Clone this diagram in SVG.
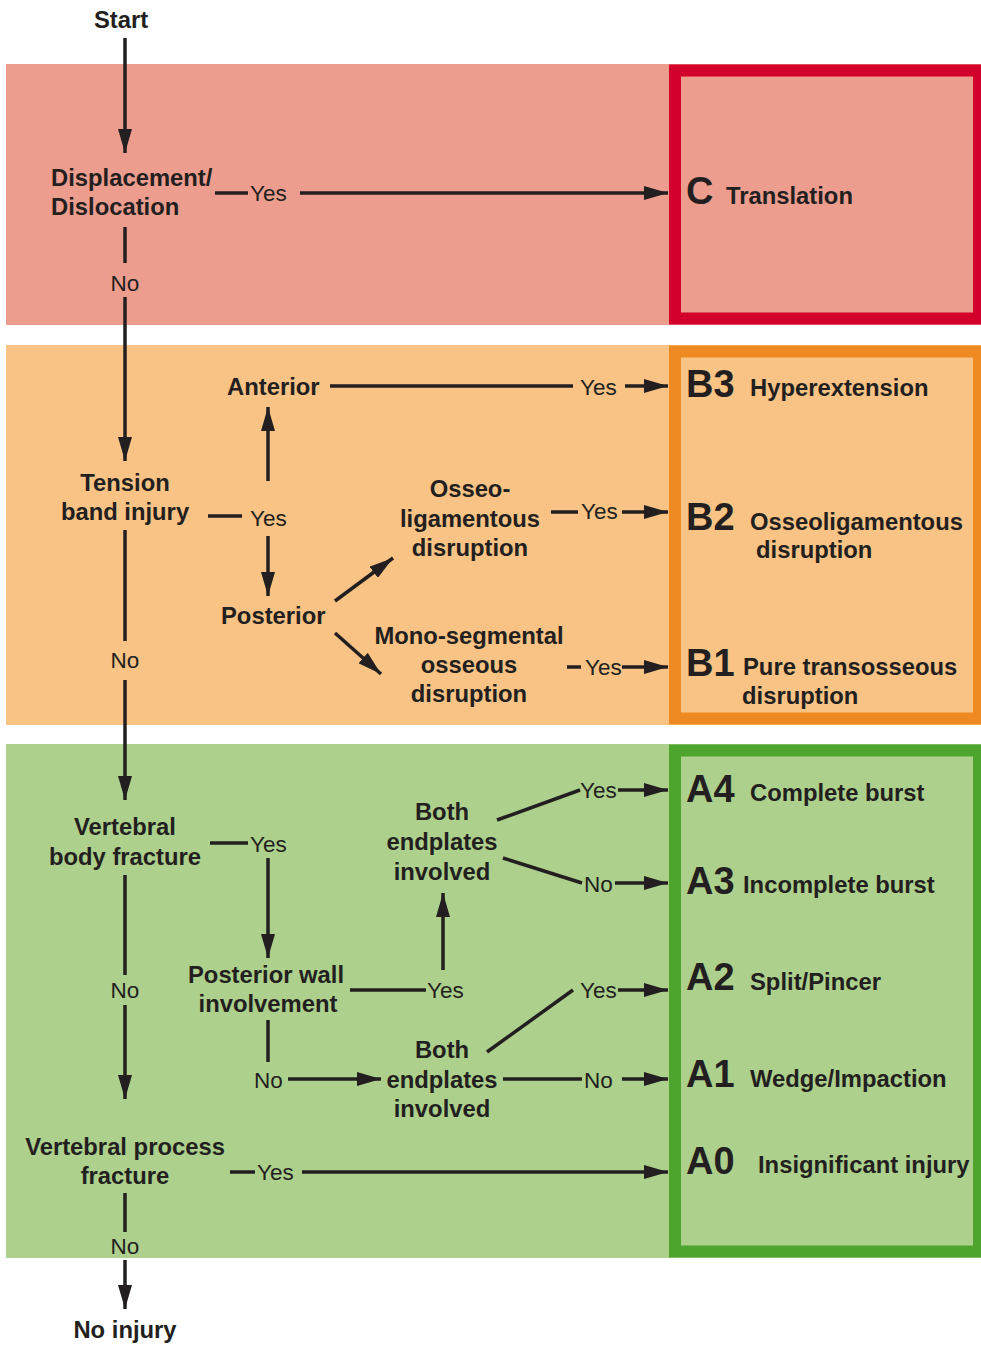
<svg xmlns="http://www.w3.org/2000/svg" width="981" height="1345" viewBox="0 0 981 1345">
<defs>
<marker id="ah" markerUnits="userSpaceOnUse" markerWidth="24" markerHeight="14" refX="24" refY="7" orient="auto">
<path d="M0,0 L24,7 L0,14 z" fill="#231F20"/>
</marker>
<style>
.t{font-family:"Liberation Sans",Arial,sans-serif;font-weight:bold;font-size:23.8px;fill:#231F20}
.m{text-anchor:middle}
.y{font-family:"Liberation Sans",Arial,sans-serif;font-size:22.5px;fill:#231F20}
.code{font-family:"Liberation Sans",Arial,sans-serif;font-weight:bold;font-size:38px;fill:#231F20}
.c line,.c polyline{stroke:#231F20;stroke-width:3.5;fill:none}
.a{marker-end:url(#ah)}
</style>
</defs>
<rect width="981" height="1345" fill="#FFFFFF"/>
<g id="bands">
<rect x="6" y="64" width="975" height="261" fill="#ED9D8E"/>
<rect x="6" y="345" width="975" height="380" fill="#F8C384"/>
<rect x="6" y="744" width="975" height="514" fill="#ADD08C"/>
</g>
<g id="box-C"><rect x="675" y="70.5" width="304" height="248" fill="none" stroke="#D2002A" stroke-width="12"/>
<text class="code" x="686" y="204">C</text><text class="t" x="726" y="204">Translation</text></g>
<g id="box-B"><rect x="675" y="351.5" width="304" height="367" fill="none" stroke="#EF8A22" stroke-width="12"/></g>
<g id="box-A"><rect x="675" y="750.5" width="304" height="501" fill="none" stroke="#4EA52E" stroke-width="12"/></g>
<g id="B3"><text class="code" x="686" y="397">B3</text><text class="t" x="750" y="396">Hyperextension</text></g>
<g id="B2"><text class="code" x="686" y="530">B2</text><text class="t" x="750" y="530">Osseoligamentous</text><text class="t" x="756" y="558">disruption</text></g>
<g id="B1"><text class="code" x="686" y="676">B1</text><text class="t" x="743" y="675">Pure transosseous</text><text class="t" x="742" y="704">disruption</text></g>
<g id="A4"><text class="code" x="686" y="802">A4</text><text class="t" x="750" y="801">Complete burst</text></g>
<g id="A3"><text class="code" x="686" y="894">A3</text><text class="t" x="743" y="893">Incomplete burst</text></g>
<g id="A2"><text class="code" x="686" y="990">A2</text><text class="t" x="750" y="990">Split/Pincer</text></g>
<g id="A1"><text class="code" x="686" y="1087">A1</text><text class="t" x="750" y="1087">Wedge/Impaction</text></g>
<g id="A0"><text class="code" x="686" y="1174">A0</text><text class="t" x="758" y="1173">Insignificant injury</text></g>

<g id="start"><text class="t m" x="121" y="28">Start</text></g>
<g id="displacement"><text class="t" x="51" y="186">Displacement/</text><text class="t" x="51" y="215">Dislocation</text></g>
<g id="tension"><text class="t m" x="125" y="491">Tension</text><text class="t m" x="125" y="520">band injury</text></g>
<g id="anterior"><text class="t" x="227" y="395">Anterior</text></g>
<g id="posterior"><text class="t" x="221" y="624">Posterior</text></g>
<g id="osseolig"><text class="t m" x="470" y="497">Osseo-</text><text class="t m" x="470" y="527">ligamentous</text><text class="t m" x="470" y="556">disruption</text></g>
<g id="monoseg"><text class="t m" x="469" y="644">Mono-segmental</text><text class="t m" x="469" y="673">osseous</text><text class="t m" x="469" y="702">disruption</text></g>
<g id="vbody"><text class="t m" x="125" y="835">Vertebral</text><text class="t m" x="125" y="865">body fracture</text></g>
<g id="both1"><text class="t m" x="442" y="820">Both</text><text class="t m" x="442" y="850">endplates</text><text class="t m" x="442" y="880">involved</text></g>
<g id="pwall"><text class="t m" x="266" y="983">Posterior wall</text><text class="t m" x="268" y="1012">involvement</text></g>
<g id="both2"><text class="t m" x="442" y="1058">Both</text><text class="t m" x="442" y="1088">endplates</text><text class="t m" x="442" y="1117">involved</text></g>
<g id="vprocess"><text class="t m" x="125" y="1155">Vertebral process</text><text class="t m" x="125" y="1184">fracture</text></g>
<g id="noinjury"><text class="t m" x="125" y="1338">No injury</text></g>

<g id="connectors" class="c">
<line class="a" x1="125" y1="38" x2="125" y2="153"/>
<line x1="215" y1="193" x2="248" y2="193"/>
<line class="a" x1="300" y1="193" x2="668" y2="193"/>
<line x1="125" y1="227" x2="125" y2="263"/>
<line class="a" x1="125" y1="297" x2="125" y2="461"/>
<line x1="330" y1="386" x2="573" y2="386"/>
<line class="a" x1="625" y1="386" x2="668" y2="386"/>
<line x1="208" y1="516" x2="242" y2="516"/>
<line class="a" x1="268" y1="481" x2="268" y2="407"/>
<line class="a" x1="268" y1="536" x2="268" y2="596"/>
<line class="a" x1="335" y1="601" x2="393" y2="558"/>
<line class="a" x1="335" y1="633" x2="381" y2="674"/>
<line x1="551" y1="512" x2="578" y2="512"/>
<line class="a" x1="622" y1="512" x2="668" y2="512"/>
<line x1="567" y1="667" x2="581" y2="667"/>
<line class="a" x1="622" y1="667" x2="668" y2="667"/>
<line x1="125" y1="530" x2="125" y2="641"/>
<line class="a" x1="125" y1="680" x2="125" y2="800"/>
<line x1="210" y1="843" x2="248" y2="843"/>
<line class="a" x1="268" y1="858" x2="268" y2="958"/>
<line x1="497" y1="820" x2="580" y2="790"/>
<line class="a" x1="618" y1="790" x2="668" y2="790"/>
<line x1="503" y1="858" x2="582" y2="883"/>
<line class="a" x1="615" y1="883" x2="668" y2="883"/>
<line class="a" x1="443" y1="970" x2="443" y2="893"/>
<line x1="350" y1="990" x2="426" y2="990"/>
<line x1="125" y1="875" x2="125" y2="975"/>
<line class="a" x1="125" y1="1005" x2="125" y2="1099"/>
<line x1="268" y1="1020" x2="268" y2="1062"/>
<line class="a" x1="288" y1="1079" x2="381" y2="1079"/>
<line x1="487" y1="1052" x2="573" y2="990"/>
<line class="a" x1="618" y1="990" x2="668" y2="990"/>
<line x1="503" y1="1079" x2="582" y2="1079"/>
<line class="a" x1="622" y1="1079" x2="668" y2="1079"/>
<line x1="230" y1="1172" x2="255" y2="1172"/>
<line class="a" x1="302" y1="1172" x2="668" y2="1172"/>
<line x1="125" y1="1193" x2="125" y2="1232"/>
<line class="a" x1="125" y1="1260" x2="125" y2="1309"/>
</g>
<g id="labels">
<text class="y" x="250" y="201">Yes</text>
<text class="y m" x="125" y="291">No</text>
<text class="y" x="580" y="395">Yes</text>
<text class="y" x="250" y="526">Yes</text>
<text class="y" x="581" y="519">Yes</text>
<text class="y" x="585" y="675">Yes</text>
<text class="y m" x="125" y="668">No</text>
<text class="y" x="250" y="852">Yes</text>
<text class="y" x="580" y="798">Yes</text>
<text class="y" x="584" y="892">No</text>
<text class="y" x="427" y="998">Yes</text>
<text class="y m" x="125" y="998">No</text>
<text class="y" x="254" y="1088">No</text>
<text class="y" x="580" y="998">Yes</text>
<text class="y" x="584" y="1088">No</text>
<text class="y" x="257" y="1180">Yes</text>
<text class="y m" x="125" y="1254">No</text>
</g>
</svg>
